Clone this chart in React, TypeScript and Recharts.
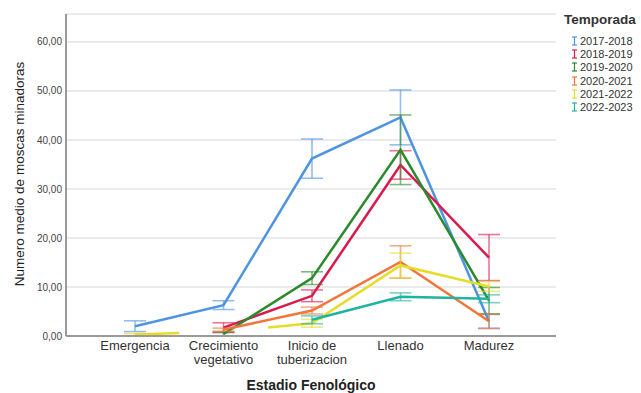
import React from "react";
import { LineChart, Line, XAxis, YAxis, CartesianGrid, ErrorBar, Legend } from "recharts";

// Estadio fenológico del cultivo
const stages = ["Emergencia", "Crecimiento\nvegetativo", "Inicio de\ntuberizacion", "Llenado", "Madurez"];

const seasons = ["2017-2018", "2018-2019", "2019-2020", "2020-2021", "2021-2022", "2022-2023"];
const seasonColors = ["#4f93e3", "#d91a4d", "#2b8a2b", "#f0763a", "#e6dc2a", "#1fb3a2"];

// medias por temporada (null = sin muestreo)
const mean1718 = [2.0, 6.3, 36.2, 44.6, 3.0];
const mean1819 = [null, 1.7, 8.2, 34.9, 16.0];
const mean1920 = [null, 0.4, 11.8, 38.0, 7.2];
const mean2021 = [null, 1.3, 5.2, 15.1, 3.0];
const mean2122 = [0.3, 0.9, 2.6, 14.4, 10.1];
const mean2223 = [null, null, 3.3, 8.0, 7.6];

// error típico de cada media
const err1718 = [1.1, 0.9, 4.0, 5.6, 1.4];
const err1819 = [null, 1.0, 1.2, 2.9, 4.7];
const err1920 = [null, 0.4, 1.3, 7.1, 2.7];
const err2021 = [null, 0.3, 0.7, 3.3, 1.5];
const err2122 = [0.2, null, 0.8, 2.5, 1.0];
const err2223 = [null, null, 0.8, 0.8, 0.8];

const yTicks = [0, 10, 20, 30, 40, 50, 60];

const means = [mean1718, mean1819, mean1920, mean2021, mean2122, mean2223];
const errs = [err1718, err1819, err1920, err2021, err2122, err2223];

const data = stages.map((stage, i) => {
  const row: Record<string, any> = { stage };
  means.forEach((m, s) => {
    row[`m${s}`] = m[i];
    row[`e${s}`] = errs[s][i];
  });
  return row;
});

const FONT = "'Liberation Sans', Arial, sans-serif";

const fmt = (v: number) => v.toFixed(2).replace(".", ",");

function StageTick({ x, y, payload }: any) {
  const lines = String(payload.value).split("\n");
  return (
    <text x={x} y={y} textAnchor="middle" fontSize={13} fill="#333" fontFamily={FONT}>
      {lines.map((l, i) => (
        <tspan key={i} x={x} dy={i === 0 ? 10 : 13.5}>
          {l}
        </tspan>
      ))}
    </text>
  );
}

function ErrorIcon({ color }: { color: string }) {
  return (
    <svg width={7} height={10} style={{ marginRight: 2 }}>
      <line x1={1} y1={1} x2={6} y2={1} stroke={color} strokeWidth={1.2} />
      <line x1={3.5} y1={1} x2={3.5} y2={9} stroke={color} strokeWidth={1.2} />
      <line x1={1} y1={9} x2={6} y2={9} stroke={color} strokeWidth={1.2} />
    </svg>
  );
}

function SeasonLegend({ payload }: any) {
  return (
    <div style={{ fontFamily: FONT, color: "#333" }}>
      <div style={{ fontWeight: "bold", fontSize: 13.5, lineHeight: "16px", marginBottom: 6 }}>Temporada</div>
      {(payload || []).map((p: any) => (
        <div key={p.value} style={{ display: "flex", alignItems: "center", height: 13.3, fontSize: 11, paddingLeft: 7 }}>
          <ErrorIcon color={p.color} />
          <span>{p.value}</span>
        </div>
      ))}
    </div>
  );
}

function YTitle() {
  return (
    <text
      transform="translate(19,174) rotate(-90)"
      textAnchor="middle"
      dominantBaseline="central"
      fontSize={13.5}
      fill="#222"
      fontFamily={FONT}
    >
      Numero medio de moscas minadoras
    </text>
  );
}

export default function App() {
  return (
    <div style={{ width: 641, height: 393, background: "#fff" }}>
      <style>{`body{margin:0}`}</style>
      <LineChart width={641} height={393} data={data} margin={{ top: 14, right: 85, bottom: 0, left: 0 }}>
        <CartesianGrid horizontal vertical={false} stroke="#d6d6d6" />
        <XAxis
          dataKey="stage"
          interval={0}
          padding={{ left: 69, right: 67 }}
          height={57}
          tickLine={false}
          tickSize={0}
          tickMargin={4}
          axisLine={{ stroke: "#9a9a9a", strokeWidth: 2 }}
          tick={<StageTick />}
          label={{
            value: "Estadio Fenológico",
            position: "insideBottom",
            offset: 3,
            style: { fontFamily: FONT, fontWeight: "bold", fontSize: 14, fill: "#222" },
          }}
        />
        <YAxis
          width={66}
          domain={[0, 65.7]}
          ticks={yTicks}
          tickFormatter={fmt}
          tickLine={false}
          tickSize={0}
          tickMargin={4}
          axisLine={{ stroke: "#9a9a9a", strokeWidth: 2 }}
          tick={{ fontSize: 10, fill: "#444", fontFamily: FONT }}
          label={{ content: <YTitle /> }}
        />
        <Legend
          layout="vertical"
          align="center"
          verticalAlign="middle"
          wrapperStyle={{ top: 12, left: 564, width: 77 }}
          content={<SeasonLegend />}
        />
        {seasons.map((name, s) => (
          <Line
            key={name}
            name={name}
            dataKey={`m${s}`}
            stroke={seasonColors[s]}
            strokeWidth={2.5}
            dot={false}
            activeDot={false}
            isAnimationActive={false}
            // la serie 2021-2022 no tiene media en crecimiento: solo se ven los tramos hacia ese punto
            strokeDasharray={s === 4 ? "44.3 88.9 2000" : undefined}
          >
            <ErrorBar
              dataKey={`e${s}`}
              direction="y"
              width={11}
              stroke={seasonColors[s]}
              strokeOpacity={0.6}
              strokeWidth={1.6}
              isAnimationActive={false}
            />
          </Line>
        ))}
      </LineChart>
    </div>
  );
}
